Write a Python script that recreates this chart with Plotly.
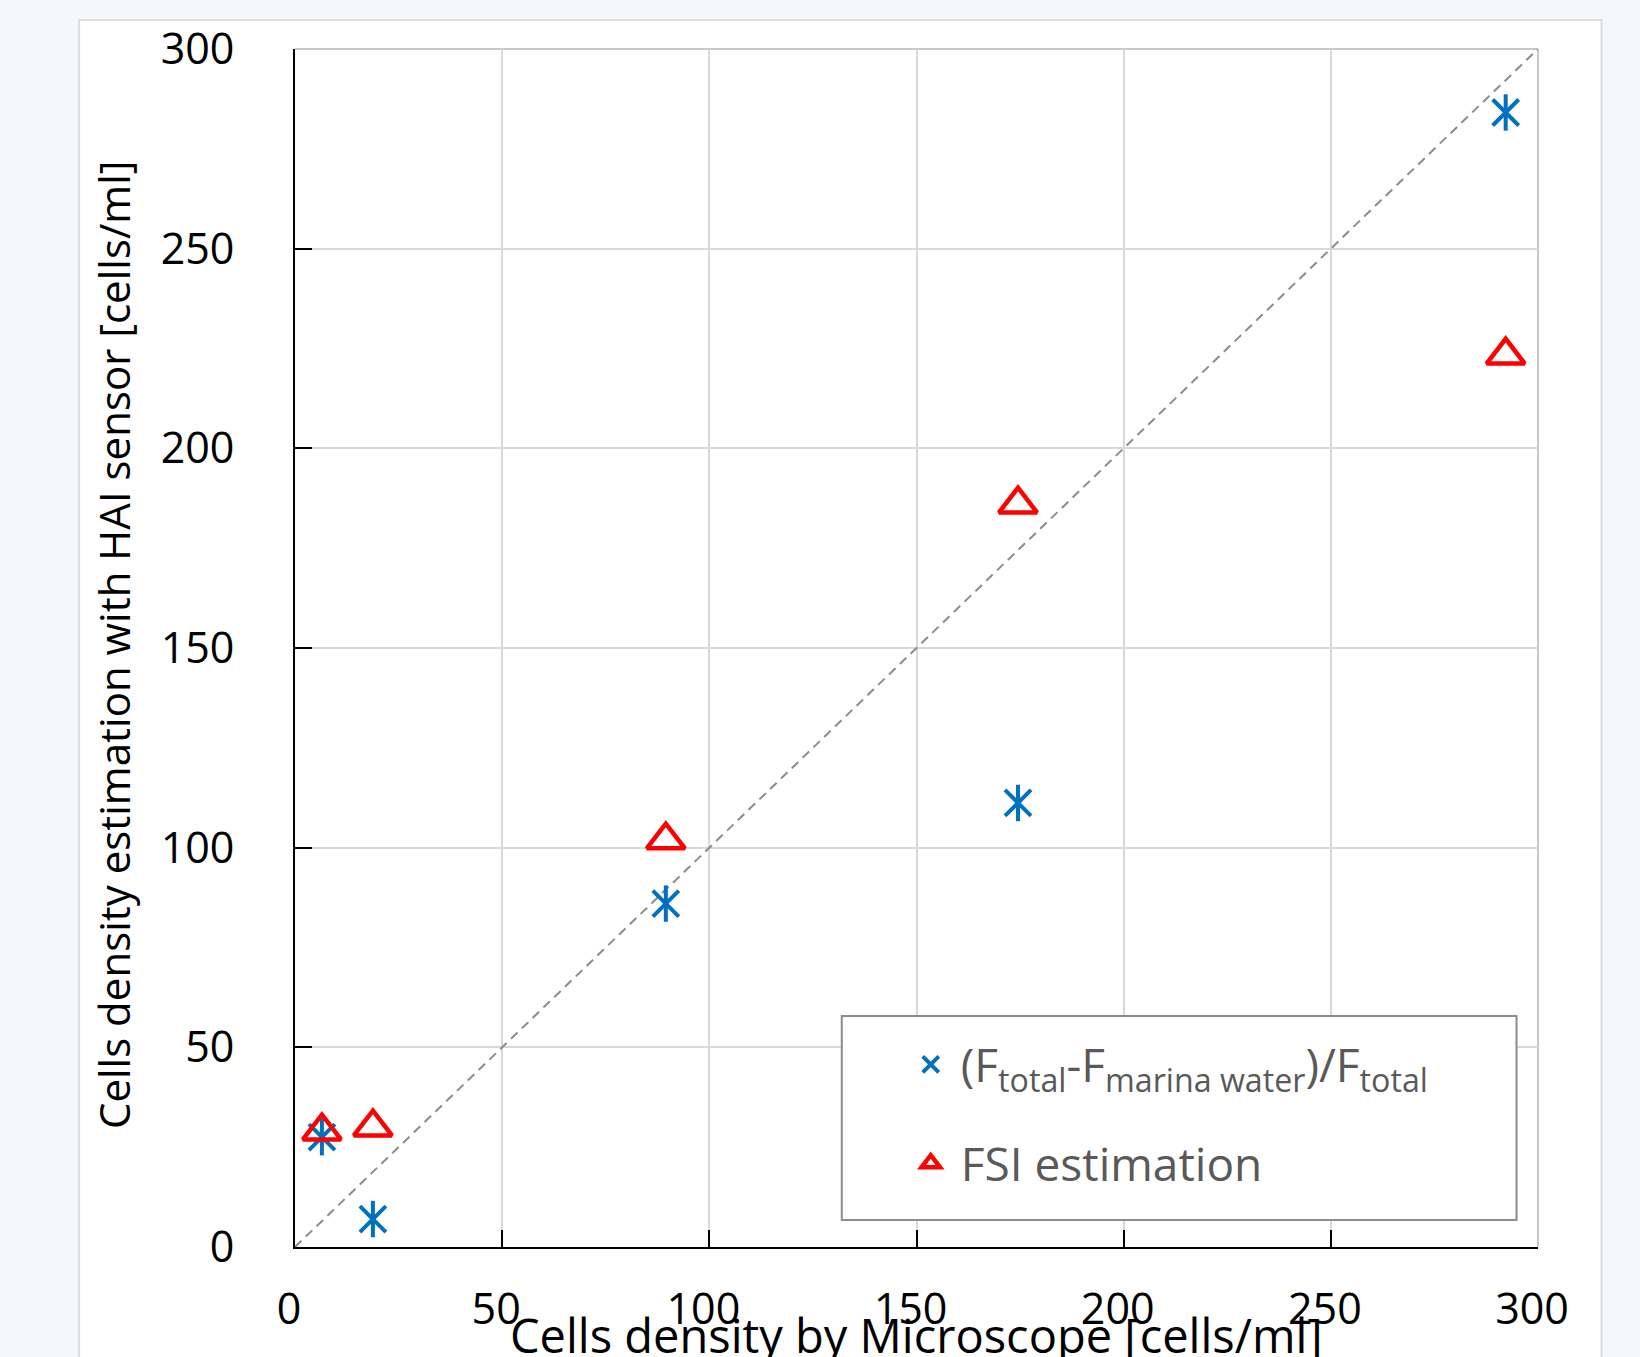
import plotly.graph_objects as go

# ---- data ----
x_microscope = [6.5, 18.8, 89.5, 174.5, 292.2]
y_hai_ratio = [27.5, 7.0, 86.0, 111.2, 284.1]
y_fsi = [29.0, 30.0, 101.9, 186.0, 223.3]
identity_line = [0, 300]
tick_vals = [0, 50, 100, 150, 200, 250, 300]

name_ratio = "(F<sub>total</sub>-F<sub>marina water</sub>)/F<sub>total</sub>"
name_fsi = "FSI estimation"
x_title = "Cells density by Microscope [cells/ml]"
y_title = "Cells density estimation with HAI sensor [cells/ml]"

BLUE = "#0070C0"
RED = "#FF0000"
FONT = "Open Sans"

W, H = 1640, 1357
L, R, T, B = 295, 101.5, 49, 110

fig = go.Figure()

# y = x reference line
fig.add_trace(go.Scatter(
    x=identity_line, y=identity_line, mode="lines",
    line=dict(color="#8C8C8C", width=2, dash="9px,6px"),
    showlegend=False, hoverinfo="skip", cliponaxis=False,
))

# asterisk: vertical stroke + X strokes
fig.add_trace(go.Scatter(
    x=x_microscope, y=y_hai_ratio, mode="markers",
    marker=dict(symbol="line-ns-open", size=26, color=BLUE,
                line=dict(color=BLUE, width=4)),
    showlegend=False, legendgroup="a", cliponaxis=False,
))
fig.add_trace(go.Scatter(
    x=x_microscope, y=y_hai_ratio, mode="markers", name=name_ratio,
    marker=dict(symbol="x-thin-open", size=26, color=BLUE,
                line=dict(color=BLUE, width=4)),
    legendgroup="a", cliponaxis=False,
))
fig.add_trace(go.Scatter(
    x=x_microscope, y=y_fsi, mode="markers", name=name_fsi,
    marker=dict(symbol="triangle-up-open", size=33, color=RED,
                line=dict(color=RED, width=4.5)),
    legendgroup="b", cliponaxis=False,
))

def px_x(p):
    return (p - L) / (W - L - R)

def px_y(p):
    return (H - B - p) / (H - T - B)

axis_common = dict(
    range=[0, 300], tickvals=tick_vals, showgrid=True, gridcolor="#D9D9D9",
    gridwidth=2, showline=True, linecolor="black", linewidth=2,
    ticks="inside", ticklen=17, tickwidth=2, tickcolor="black",
    zeroline=False, tickfont=dict(family=FONT, size=43, color="black"),
)

fig.update_layout(
    width=W, height=H,
    margin=dict(l=L, r=R, t=T, b=B, autoexpand=False),
    paper_bgcolor="#F4F8FC", plot_bgcolor="white",
    xaxis=dict(**axis_common, ticklabelstandoff=23, ticklabelshift=-6),
    yaxis=dict(**axis_common, ticklabelstandoff=50),
    showlegend=True,
    legend=dict(
        x=px_x(901), y=px_y(1028), xanchor="left", yanchor="top",
        bgcolor="rgba(0,0,0,0)", borderwidth=0,
        font=dict(family=FONT, size=46, color="#595959"),
        traceorder="grouped", tracegroupgap=36, itemsizing="trace",
        itemwidth=50,
    ),
    shapes=[
        # white card behind the chart
        dict(type="rect", xref="paper", yref="paper", layer="below",
             x0=px_x(79), x1=px_x(1602), y0=px_y(1400), y1=px_y(20),
             fillcolor="white", line=dict(color="#DCDCDC", width=2)),
        # grey frame at top and right of the plot area
        dict(type="line", xref="paper", yref="paper", layer="below",
             x0=0, x1=1, y0=1, y1=1, line=dict(color="#C8C8C8", width=2)),
        dict(type="line", xref="paper", yref="paper", layer="below",
             x0=1, x1=1, y0=0, y1=1, line=dict(color="#C8C8C8", width=2)),
        # legend box
        dict(type="rect", xref="paper", yref="paper", layer="above",
             x0=px_x(842), x1=px_x(1517), y0=px_y(1220), y1=px_y(1016),
             fillcolor="white", line=dict(color="#8C8C8C", width=2)),
    ],
    annotations=[
        dict(text=x_title, xref="paper", yref="paper", x=0.5, y=px_y(1335),
             xanchor="center", yanchor="middle", showarrow=False,
             font=dict(family=FONT, size=47, color="black")),
        dict(text=y_title, xref="paper", yref="paper", x=px_x(113), y=px_y(645),
             xanchor="center", yanchor="middle", showarrow=False, textangle=-90,
             font=dict(family=FONT, size=42, color="black")),
    ],
)

fig.write_html("out.html", config={"displayModeBar": False},
               post_script="document.body.style.margin='0';document.body.style.overflow='hidden';")
